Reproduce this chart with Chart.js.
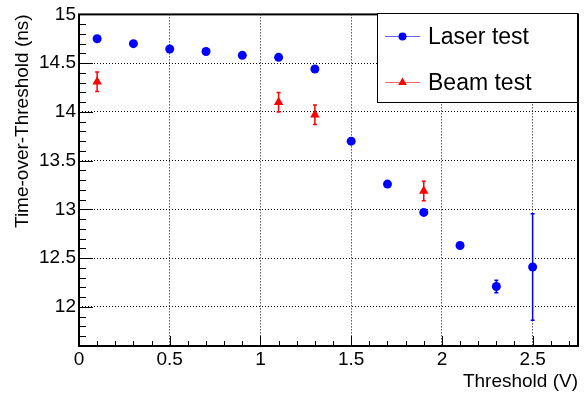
<!DOCTYPE html>
<html>
<head>
<meta charset="utf-8">
<script src="https://cdn.jsdelivr.net/npm/chart.js@4.4.0/dist/chart.umd.min.js"></script>
<style>
  html, body { margin: 0; padding: 0; background: #fff; }
</style>
</head>
<body>
<canvas id="totChart" width="588" height="396"></canvas>
<script>
// laser scan points
const thresholds = [0.1, 0.3, 0.5, 0.7, 0.9, 1.1, 1.3, 1.5, 1.7, 1.9, 2.1, 2.3, 2.5];
const laserTot = [14.75, 14.70, 14.645, 14.62, 14.58, 14.56, 14.44, 13.70, 13.26, 12.97, 12.63, 12.21, 12.41];
const laserErr = [0, 0, 0, 0, 0, 0, 0, 0, 0, 0, 0, 0.065, 0.545];

// beam test points
const beamThresholds = [0.1, 1.1, 1.3, 1.9];
const beamTot = [14.31, 14.10, 13.97, 13.19];
const beamErr = [0.1, 0.1, 0.1, 0.1];

const xTicks = [0, 0.5, 1, 1.5, 2, 2.5];
const yTicks = [12, 12.5, 13, 13.5, 14, 14.5, 15];

const FONT = "'Liberation Sans', Arial, Helvetica, sans-serif";
const axisFont = { family: FONT, size: 19 };

// frame, inner tick marks, error bars and the boxed legend
const rootStyle = {
    id: 'rootStyle',
    beforeDatasetsDraw(chart) {
        const ctx = chart.ctx;
        const xs = chart.scales.x, ys = chart.scales.y;
        chart.data.datasets.forEach(ds => {
            ctx.save();
            ctx.strokeStyle = ds.borderColor;
            ctx.lineWidth = 1.5;
            ds.data.forEach((p, i) => {
                const e = ds.errors[i];
                if (!e) return;
                const px = xs.getPixelForValue(p.x);
                const y1 = ys.getPixelForValue(p.y + e);
                const y2 = ys.getPixelForValue(p.y - e);
                ctx.beginPath();
                ctx.moveTo(px, y1); ctx.lineTo(px, y2);
                ctx.moveTo(px - 2, y1); ctx.lineTo(px + 2, y1);
                ctx.moveTo(px - 2, y2); ctx.lineTo(px + 2, y2);
                ctx.stroke();
            });
            ctx.restore();
        });
    },
    afterDraw(chart) {
        const ctx = chart.ctx;
        const a = chart.chartArea;
        const xs = chart.scales.x, ys = chart.scales.y;
        ctx.save();
        ctx.strokeStyle = '#000';
        ctx.lineWidth = 1;
        ctx.beginPath();
        // y ticks every 0.1, major every 0.5
        for (let k = Math.ceil(ys.min * 10); k <= Math.floor(ys.max * 10); k++) {
            const py = Math.round(ys.getPixelForValue(k / 10)) + 0.5;
            const len = k % 5 === 0 ? 14 : 7;
            ctx.moveTo(a.left, py); ctx.lineTo(a.left + len, py);
        }
        for (let k = Math.ceil(xs.min * 10); k <= Math.floor(xs.max * 10); k++) {
            const px = Math.round(xs.getPixelForValue(k / 10)) + 0.5;
            const len = k % 5 === 0 ? 10 : 5;
            ctx.moveTo(px, a.bottom); ctx.lineTo(px, a.bottom - len);
        }
        ctx.stroke();
        ctx.lineWidth = 2;
        ctx.strokeRect(a.left, a.top, a.right - a.left, a.bottom - a.top);

        // legend box in the top right corner
        const w = 201, h = 90;
        const bx = a.right - w, by = Math.round(a.top) - 1;
        ctx.fillStyle = '#fff';
        ctx.fillRect(bx, by, w, h);
        ctx.lineWidth = 1;
        ctx.strokeRect(bx + 0.5, by + 0.5, w - 1, h - 1);
        chart.data.datasets.forEach((ds, i) => {
            const ly = by + 23 + i * 46;
            ctx.strokeStyle = ds.borderColor;
            ctx.globalAlpha = 0.6;
            ctx.beginPath();
            ctx.moveTo(bx + 8, ly + 0.5); ctx.lineTo(bx + 43, ly + 0.5);
            ctx.stroke();
            ctx.globalAlpha = 1;
            ctx.fillStyle = ds.backgroundColor;
            Chart.helpers.drawPoint(ctx, {
                pointStyle: ds.pointStyle, radius: ds.pointRadius - 0.5, rotation: 0, borderWidth: 0
            }, bx + 25.5, ly + 0.5);
            ctx.fillStyle = '#000';
            ctx.font = '23px ' + FONT;
            ctx.textBaseline = 'alphabetic';
            ctx.fillText(ds.label, bx + 51, ly + 8);
        });
        ctx.restore();
    }
};

const ctx = document.getElementById('totChart').getContext('2d');
new Chart(ctx, {
    type: 'scatter',
    data: {
        datasets: [{
            label: 'Laser test',
            data: thresholds.map((x, i) => ({ x: x, y: laserTot[i] })),
            errors: laserErr,
            pointStyle: 'circle',
            pointRadius: 4.5,
            backgroundColor: '#0000ff',
            borderColor: '#0000ff',
            borderWidth: 0
        }, {
            label: 'Beam test',
            data: beamThresholds.map((x, i) => ({ x: x, y: beamTot[i] })),
            errors: beamErr,
            pointStyle: 'triangle',
            pointRadius: 5.5,
            backgroundColor: '#ff0000',
            borderColor: '#ff0000',
            borderWidth: 0
        }]
    },
    options: {
        responsive: false,
        animation: false,
        layout: { padding: { top: 10, right: 10, left: 0, bottom: 0 } },
        plugins: { legend: { display: false }, tooltip: { enabled: false } },
        scales: {
            x: {
                type: 'linear',
                min: 0,
                max: 2.75,
                afterFit(s) { s.height = 50; },
                afterBuildTicks(s) { s.ticks = xTicks.map(v => ({ value: v })); },
                ticks: { callback: v => String(v), font: axisFont, color: '#000', padding: 2, maxRotation: 0 },
                grid: { color: '#000', lineWidth: 1, drawTicks: false },
                border: { display: false, dash: [1, 2] },
                title: { display: true, text: 'Threshold (V)', align: 'end', font: axisFont, color: '#000', padding: { top: 0, bottom: 3 } }
            },
            y: {
                type: 'linear',
                min: 11.6,
                max: 15,
                afterFit(s) { s.width = 79; },
                afterBuildTicks(s) { s.ticks = yTicks.map(v => ({ value: v })); },
                ticks: { callback: v => String(v), font: axisFont, color: '#000', padding: 3 },
                grid: { color: '#000', lineWidth: 1, drawTicks: false },
                border: { display: false, dash: [1, 2] },
                title: { display: true, text: 'Time-over-Threshold (ns)', align: 'end', font: axisFont, color: '#000', padding: { top: 11, bottom: 0 } }
            }
        }
    },
    plugins: [rootStyle]
});
</script>
</body>
</html>
